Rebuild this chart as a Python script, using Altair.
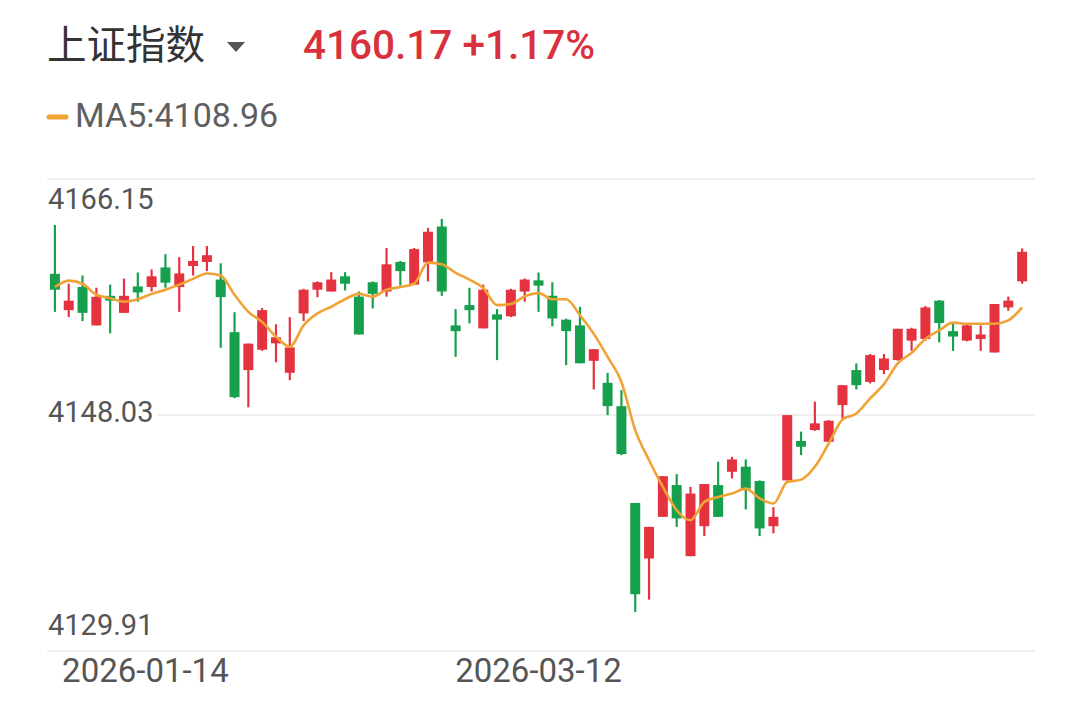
import altair as alt
import pandas as pd

# ---- data (price units) ----
opens = [4158.87, 4156.08, 4157.86, 4154.91, 4157.18, 4155.87, 4157.90, 4157.86, 4159.36, 4157.86,
         4159.47, 4159.78, 4158.43, 4154.39, 4151.48, 4153.04, 4153.53, 4151.27, 4155.83, 4157.65,
         4157.51, 4158.68, 4157.12, 4158.22, 4157.51, 4159.78, 4158.04, 4159.75, 4162.50, 4154.91,
         4156.47, 4154.68, 4155.76, 4155.61, 4157.51, 4158.37, 4157.18, 4155.35, 4154.91, 4152.19,
         4150.50, 4148.71, 4141.28, 4137.01, 4140.21, 4142.65, 4137.19, 4139.49, 4142.65, 4143.67,
         4144.06, 4142.96, 4139.49, 4143.01, 4146.04, 4146.87, 4145.97, 4148.79, 4151.48, 4150.57,
         4151.48, 4152.25, 4153.74, 4153.87, 4156.81, 4154.47, 4153.74, 4153.87, 4152.83, 4156.29,
         4158.29]
highs = [4162.62, 4158.11, 4158.74, 4157.80, 4158.04, 4158.51, 4158.97, 4159.21, 4160.38, 4160.15,
         4161.00, 4161.00, 4159.68, 4155.92, 4153.51, 4156.24, 4154.99, 4155.54, 4157.72, 4158.29,
         4159.00, 4159.00, 4157.51, 4158.29, 4160.85, 4159.86, 4160.85, 4162.40, 4163.09, 4156.16,
         4157.80, 4158.04, 4156.16, 4157.72, 4158.51, 4158.97, 4158.22, 4155.43, 4156.34, 4153.09,
         4151.27, 4149.94, 4141.28, 4139.44, 4143.33, 4143.49, 4142.51, 4142.73, 4144.44, 4144.82,
         4144.62, 4143.01, 4140.95, 4148.02, 4146.76, 4149.05, 4147.64, 4150.32, 4151.99, 4152.71,
         4152.71, 4154.65, 4154.73, 4156.39, 4156.86, 4155.17, 4155.09, 4154.91, 4156.55, 4157.12,
         4160.82]
lows = [4155.95, 4155.55, 4155.24, 4154.91, 4154.30, 4155.87, 4156.73, 4157.51, 4157.80, 4155.95,
        4158.74, 4159.08, 4153.19, 4149.32, 4148.62, 4152.96, 4152.08, 4150.70, 4155.24, 4157.08,
        4157.51, 4157.59, 4154.21, 4156.21, 4157.12, 4157.96, 4158.04, 4158.29, 4157.18, 4152.50,
        4155.07, 4154.68, 4152.24, 4155.55, 4156.73, 4155.95, 4154.84, 4151.86, 4152.00, 4149.99,
        4148.02, 4144.95, 4132.91, 4133.85, 4140.21, 4139.44, 4137.19, 4138.73, 4140.21, 4143.16,
        4140.78, 4138.73, 4138.95, 4143.01, 4144.95, 4146.82, 4145.97, 4147.76, 4149.99, 4150.45,
        4151.16, 4152.20, 4152.96, 4153.74, 4153.61, 4152.96, 4153.69, 4152.96, 4152.83, 4156.03,
        4158.11]
closes = [4157.65, 4156.81, 4155.87, 4157.10, 4156.81, 4157.18, 4157.44, 4158.68, 4158.19, 4158.90,
          4159.86, 4160.30, 4157.08, 4149.40, 4153.51, 4156.08, 4154.00, 4153.22, 4157.65, 4158.22,
          4158.43, 4158.11, 4154.21, 4157.33, 4159.60, 4159.08, 4160.77, 4162.10, 4157.51, 4154.47,
          4156.08, 4157.65, 4155.35, 4157.65, 4158.43, 4157.96, 4155.43, 4154.47, 4152.00, 4153.08,
          4148.71, 4145.03, 4134.27, 4139.44, 4143.33, 4140.09, 4142.00, 4142.73, 4140.21, 4144.62,
          4142.38, 4139.32, 4140.21, 4148.02, 4145.59, 4147.39, 4147.59, 4150.32, 4150.32, 4152.63,
          4152.37, 4154.65, 4154.65, 4156.29, 4155.09, 4154.05, 4154.91, 4154.21, 4156.55, 4156.81,
          4160.56]
ma5 = [4157.86, 4158.35, 4158.11, 4157.26, 4157.00, 4156.73, 4156.92, 4157.33, 4157.65, 4158.04,
       4158.48, 4158.90, 4158.74, 4157.26, 4155.95, 4155.17, 4154.05, 4153.27, 4154.91, 4155.83,
       4156.34, 4156.92, 4157.33, 4157.12, 4157.65, 4157.86, 4158.11, 4159.73, 4159.60, 4158.95,
       4158.43, 4157.78, 4156.47, 4156.55, 4157.14, 4157.39, 4156.92, 4156.92, 4155.69, 4154.26,
       4152.49, 4150.57, 4146.87, 4144.56, 4142.51, 4140.72, 4139.95, 4141.36, 4141.74, 4142.00,
       4142.38, 4141.63, 4141.23, 4142.88, 4143.07, 4144.06, 4145.84, 4147.68, 4148.15, 4149.30,
       4150.40, 4151.99, 4152.80, 4153.87, 4154.52, 4155.12, 4155.04, 4155.04, 4155.04, 4155.30,
       4156.29]

y_ticks = [4166.15, 4148.03, 4129.91]
x_labels = ["2026-01-14", "2026-03-12"]
x_label_idx = [6.55, 35]
title_name = "上证指数"
title_quote = "4160.17 +1.17%"
legend_text = "MA5:4108.96"

RED = "#e5323f"
GREEN = "#16a04d"
ORANGE = "#f0a235"
GRID = "#e9e9e9"
TXT = "#555555"

df = pd.DataFrame({
    "i": list(range(len(opens))),
    "open": opens, "high": highs, "low": lows, "close": closes, "ma": ma5,
})
df["dir"] = ["up" if c >= o else "down" for o, c in zip(opens, closes)]

W, H = 995, 472
xs = alt.Scale(domain=[-0.7165, 70.57], nice=False, zero=False)
ys = alt.Scale(domain=[y_ticks[2], y_ticks[0]], nice=False, zero=False)
color = alt.Color("dir:N", scale=alt.Scale(domain=["up", "down"], range=[RED, GREEN]), legend=None)

base = alt.Chart(df).encode(x=alt.X("i:Q", scale=xs, axis=None), color=color)
wick = base.mark_rule(strokeWidth=2.2).encode(
    y=alt.Y("low:Q", scale=ys, axis=None), y2="high:Q")
body = base.mark_bar(size=10).encode(
    y=alt.Y("open:Q", scale=ys, axis=None), y2="close:Q")
ma = alt.Chart(df).mark_line(color=ORANGE, strokeWidth=2.6, interpolate="monotone").encode(
    x=alt.X("i:Q", scale=xs, axis=None), y=alt.Y("ma:Q", scale=ys, axis=None))

edge_grid = alt.Chart(pd.DataFrame({"v": [y_ticks[0], y_ticks[2]]})).mark_rule(
    color=GRID, strokeWidth=1.5).encode(
    y=alt.Y("v:Q", scale=ys, axis=None), x=alt.value(7), x2=alt.value(W))
mid_grid = alt.Chart(pd.DataFrame({"v": [y_ticks[1]]})).mark_rule(
    color=GRID, strokeWidth=1.5).encode(
    y=alt.Y("v:Q", scale=ys, axis=None), x=alt.value(118), x2=alt.value(W))


def ylab(v, dy):
    return alt.Chart(pd.DataFrame({"v": [v], "t": [f"{v:.2f}"]})).mark_text(
        align="left", baseline="middle", dy=dy, font="Roboto", fontSize=29, color=TXT
    ).encode(x=alt.value(8), y=alt.Y("v:Q", scale=ys, axis=None), text="t:N")


ylabels = ylab(y_ticks[0], 21) + ylab(y_ticks[1], -2) + ylab(y_ticks[2], -25)

xlabels = alt.Chart(pd.DataFrame({"i": x_label_idx, "t": x_labels})).mark_text(
    align="center", baseline="middle", font="Roboto", fontSize=33, color=TXT
).encode(x=alt.X("i:Q", scale=xs, axis=None), y=alt.value(493), text="t:N")


def label(text, x, y, **kw):
    return alt.Chart(pd.DataFrame({"t": [text]})).mark_text(
        align="left", baseline="middle", **kw
    ).encode(x=alt.value(x), y=alt.value(y), text="t:N")


name = label(title_name, 7, -132, font="Noto Sans CJK SC", fontSize=39.5, color="#333333")
tri = alt.Chart(pd.DataFrame({"t": ["▼"]})).mark_point(
    shape="M-1,-0.55L1,-0.55L0,0.55Z", filled=True, size=330, color="#555555", opacity=1
).encode(x=alt.value(196), y=alt.value(-132))
quote = label(title_quote, 263, -132, font="Roboto", fontSize=40.5, fontWeight=500, color="#d9303d")
leg_line = alt.Chart(pd.DataFrame({"t": [legend_text]})).mark_rule(
    color=ORANGE, strokeWidth=5, strokeCap="round").encode(
    x=alt.value(9), x2=alt.value(26), y=alt.value(-62))
leg_text = label(legend_text, 35, -62, font="Roboto", fontSize=34, color="#5f5f5f")

chart = alt.layer(
    edge_grid, mid_grid, ylabels, wick, body, ma, xlabels,
    name, tri, quote, leg_line, leg_text
).properties(
    width=W, height=H,
    autosize=alt.AutoSizeParams(type="none"),
    padding={"left": 32, "top": 171, "right": 0, "bottom": 45},
    background="white",
).configure_view(stroke=None)

chart.save("out.html", embed_options={"renderer": "svg", "actions": False})
